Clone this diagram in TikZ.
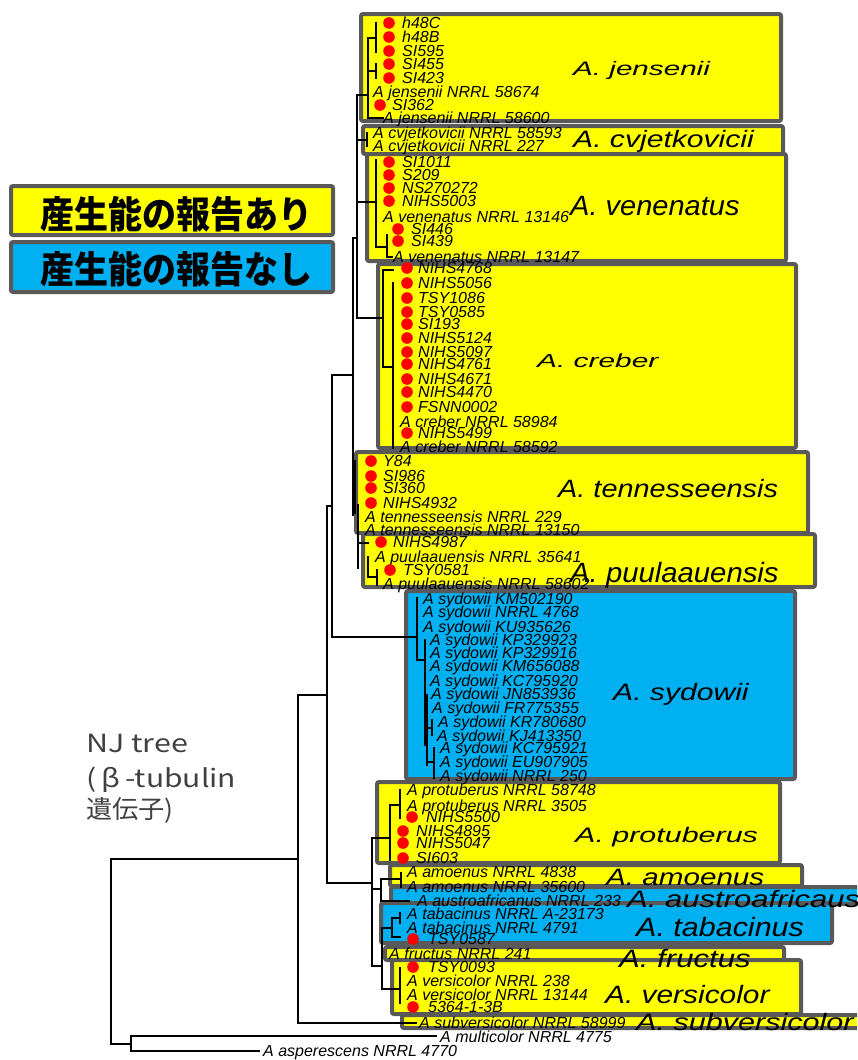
\documentclass[tikz,border=0pt]{standalone}
\usepackage{fontspec}
\usepackage{graphicx}
\setmainfont{Liberation Sans}
\newfontfamily\jpfont{Noto Sans CJK JP}
\definecolor{boxyellow}{HTML}{FFFF00}
\definecolor{boxblue}{HTML}{00B0F0}
\definecolor{boxgray}{HTML}{595959}
\definecolor{dotred}{HTML}{FF0000}
\definecolor{njgray}{HTML}{404040}
\newcounter{lfc}
\newcommand{\lf}[3]{\stepcounter{lfc}\node[leaf] (leaf\arabic{lfc}) at (#1,#2+5.7) {#3};}
\newcommand{\rd}[2]{\fill[dotred] (#1,#2) circle (5.8);}
\newcommand{\spl}[6]{\node[splab] (#1) at (#2,#3) {\fontsize{#4}{#4}\selectfont\scalebox{#5}[1]{#6}};}
\newcommand{\bx}[5]{\draw[#1] (#2+2,#3+2) rectangle (#4-2,#5-2);}
\tikzset{
 leaf/.style={anchor=base west, inner sep=0pt, font=\fontsize{16}{16}\selectfont\itshape},
 splab/.style={anchor=base west, inner sep=0pt, font=\itshape},
 yb/.style={draw=boxgray, line width=4pt, fill=boxyellow, rounded corners=2pt},
 bb/.style={draw=boxgray, line width=4pt, fill=boxblue, rounded corners=2pt},
 br/.style={line width=1.5pt, line cap=rect},
 jp/.style={inner sep=0pt, font=\jpfont\bfseries\fontsize{34}{34}\selectfont},
 njt/.style={anchor=base west, inner sep=0pt, text=njgray, font=\jpfont\fontsize{25}{25}\selectfont},
}
\begin{document}
\begin{tikzpicture}[x=1pt,y=-1pt]
\useasboundingbox (0,0) rectangle (857,1060);
\clip (0,0) rectangle (857,1060);
% ---------- boxes ----------
\bx{yb}{359}{12}{783}{123}
\bx{yb}{361}{124}{785}{156}
\bx{yb}{365}{152}{788}{263}
\bx{yb}{376}{262}{798}{450}
\bx{yb}{354}{450}{810}{535}
\bx{yb}{361}{532}{817}{589}
\bx{bb}{404}{589}{797}{781}
\bx{yb}{375}{780}{782}{865}
\bx{yb}{388}{863}{804}{888}
\bx{bb}{389}{885}{872}{906}
\bx{bb}{379}{901}{834}{945}
\bx{yb}{383}{945}{786}{962}
\bx{yb}{390}{958}{803}{1016}
\bx{yb}{400}{1013}{872}{1030}
% legend
\bx{yb}{9}{184}{335}{237}
\bx{bb}{9}{240}{335}{294}
\node[jp] (leg1) at (176,214) {\scalebox{1}[1.1]{産生能の報告あり}};
\node[jp] (leg2) at (176,269) {\scalebox{1}[1.1]{産生能の報告なし}};
% NJ tree caption
\node[njt] (nj1) at (86,752) {\scalebox{1.22}[1]{NJ tree}};
\node[njt] (nj2) at (86,787) {\scalebox{1.2}[1]{(\,β\,-tubulin}};
\node[njt] (nj3) at (86,818) {\scalebox{1.05}[1]{遺伝子)}};
% ---------- tree ----------
\draw[br] (298,859) -- (111,859) -- (111,1044) -- (131,1044);
\draw[br] (436,1036) -- (131,1036) -- (131,1051) -- (259,1051);
\draw[br] (327,695) -- (298,695) -- (298,1023) -- (416,1023);
\draw[br] (332,506) -- (327,506) -- (327,883) -- (372,883);
\draw[br] (353,375) -- (332,375) -- (332,637) -- (417,637);
\draw[br] (357,238) -- (353,238) -- (353,515);
\draw[br] (368,95) -- (357,95) -- (357,318) -- (383,318);
\draw[br] (357,140) -- (367,140);
\draw[br] (367,133) -- (367,146);
\draw[br] (357,202) -- (376,202);
% jensenii
\draw[br] (376,23) -- (376,52);
\draw[br] (368,38) -- (376,38);
\draw[br] (376,64) -- (376,78);
\draw[br] (368,71) -- (376,71);
\draw[br] (368,38) -- (368,118) -- (383,118);
% venenatus
\draw[br] (376,160) -- (376,247) -- (387,247);
\draw[br] (387,235) -- (387,257) -- (392,257);
% creber
\draw[br] (393,270) -- (383,270) -- (383,367) -- (393,367);
\draw[br] (393,283) -- (393,448);
% tennesseensis / puulaauensis
\draw[br] (355,461) -- (355,513);
\draw[br] (358,505) -- (358,568);
\draw[br] (358,543) -- (368,543);
\draw[br] (368,557) -- (368,577) -- (377,577);
\draw[br] (377,570) -- (377,585);
% sydowii
\draw[br] (417,598) -- (417,660) -- (425,660);
\draw[br] (425,640) -- (425,745);
\draw[br] (427,695) -- (427,765);
\draw[br] (427,728) -- (432,728);
\draw[br] (432,720) -- (432,735);
\draw[br] (427,762) -- (434,762);
\draw[br] (434,748) -- (434,778);
% protuberus
\draw[br] (372,838) -- (390,838);
\draw[br] (390,805) -- (390,860);
\draw[br] (390,805) -- (400,805);
\draw[br] (400,790) -- (400,818);
\draw[br] (372,838) -- (372,966) -- (382,966);
% amoenus / austroafricanus
\draw[br] (372,889) -- (381,889);
\draw[br] (381,879) -- (381,901) -- (409,901);
\draw[br] (381,879) -- (401,879);
\draw[br] (401,873) -- (401,887);
% tabacinus / versicolor
\draw[br] (382,928) -- (382,989) -- (400,989);
\draw[br] (400,968) -- (400,1003);
\draw[br] (382,928) -- (392,928);
\draw[br] (392,918) -- (392,937) -- (400,937);
\draw[br] (392,918) -- (400,918);
\draw[br] (400,913) -- (400,923);
% ---------- leaves ----------
\rd{389}{23}\lf{402}{23}{h48C}
\rd{389}{37}\lf{402}{37}{h48B}
\rd{389}{51}\lf{402}{51}{SI595}
\rd{389}{64}\lf{402}{64}{SI455}
\rd{389}{78}\lf{402}{78}{SI423}
\lf{373}{92}{A jensenii NRRL 58674}
\rd{380}{105}\lf{392}{105}{SI362}
\lf{383}{118}{A jensenii NRRL 58600}
\lf{373}{133}{A cvjetkovicii NRRL 58593}
\lf{373}{146}{A cvjetkovicii NRRL 227}
\rd{389}{162}\lf{402}{162}{SI1011}
\rd{389}{175}\lf{402}{175}{S209}
\rd{389}{188}\lf{402}{188}{NS270272}
\rd{389}{201}\lf{402}{201}{NIHS5003}
\lf{383}{217}{A venenatus NRRL 13146}
\rd{398}{229}\lf{411}{229}{SI446}
\rd{398}{241}\lf{411}{241}{SI439}
\lf{393}{257}{A venenatus NRRL 13147}
\rd{407}{268}\lf{418}{268}{NIHS4768}
\rd{407}{283}\lf{418}{283}{NIHS5056}
\rd{407}{298}\lf{418}{298}{TSY1086}
\rd{407}{312}\lf{418}{312}{TSY0585}
\rd{407}{324}\lf{418}{324}{SI193}
\rd{407}{338}\lf{418}{338}{NIHS5124}
\rd{407}{352}\lf{418}{352}{NIHS5097}
\rd{407}{364}\lf{418}{364}{NIHS4761}
\rd{407}{379}\lf{418}{379}{NIHS4671}
\rd{407}{392}\lf{418}{392}{NIHS4470}
\rd{407}{407}\lf{418}{407}{FSNN0002}
\lf{400}{422}{A creber NRRL 58984}
\rd{407}{433}\lf{418}{433}{NIHS5499}
\lf{400}{447}{A creber NRRL 58592}
\rd{371}{461}\lf{383}{461}{Y84}
\rd{371}{476}\lf{383}{476}{SI986}
\rd{371}{488}\lf{383}{488}{SI360}
\rd{371}{503}\lf{383}{503}{NIHS4932}
\lf{365}{517}{A tennesseensis NRRL 229}
\lf{365}{530}{A tennesseensis NRRL 13150}
\rd{381}{542}\lf{393}{542}{NIHS4987}
\lf{375}{557}{A puulaauensis NRRL 35641}
\rd{390}{570}\lf{403}{570}{TSY0581}
\lf{383}{584}{A puulaauensis NRRL 58602}
\lf{423}{599}{A sydowii KM502190}
\lf{423}{612}{A sydowii NRRL 4768}
\lf{423}{627}{A sydowii KU935626}
\lf{430}{640}{A sydowii KP329923}
\lf{430}{653}{A sydowii KP329916}
\lf{430}{666}{A sydowii KM656088}
\lf{430}{681}{A sydowii KC795920}
\lf{431}{694}{A sydowii JN853936}
\lf{432}{708}{A sydowii FR775355}
\lf{438}{722}{A sydowii KR780680}
\lf{437}{736}{A sydowii KJ413350}
\lf{440}{748}{A sydowii KC795921}
\lf{440}{762}{A sydowii EU907905}
\lf{440}{776}{A sydowii NRRL 250}
\lf{407}{790}{A protuberus NRRL 58748}
\lf{407}{806}{A protuberus NRRL 3505}
\rd{412}{817}\lf{426}{817}{NIHS5500}
\rd{403}{831}\lf{416}{831}{NIHS4895}
\rd{403}{843}\lf{416}{843}{NIHS5047}
\rd{403}{858}\lf{416}{858}{SI603}
\lf{407}{872}{A amoenus NRRL 4838}
\lf{407}{887}{A amoenus NRRL 35600}
\lf{417}{901}{A austroafricanus NRRL 233}
\lf{407}{914}{A tabacinus NRRL A-23173}
\lf{407}{928}{A tabacinus NRRL 4791}
\rd{413}{939}\lf{428}{939}{TSY0587}
\lf{389}{954}{A fructus NRRL 241}
\rd{413}{967}\lf{428}{967}{TSY0093}
\lf{407}{981}{A versicolor NRRL 238}
\lf{407}{995}{A versicolor NRRL 13144}
\rd{413}{1007}\lf{428}{1007}{5364-1-3B}
\lf{419}{1023}{A subversicolor NRRL 58999}
\lf{440}{1037}{A multicolor NRRL 4775}
\lf{263}{1051}{A asperescens NRRL 4770}
% ---------- species labels ----------
\spl{sjen}{573}{75}{19.5}{1.52}{A. jensenii}
\spl{scvj}{573}{147}{23.7}{1.27}{A. cvjetkovicii}
\spl{sven}{570}{215}{27.9}{1.04}{A. venenatus}
\spl{scre}{537}{367}{18.9}{1.58}{A. creber}
\spl{sten}{558}{497}{25.1}{1.15}{A. tennesseensis}
\spl{spuu}{570}{582}{27.9}{1.05}{A. puulaauensis}
\spl{ssyd}{613}{700}{23.7}{1.27}{A. sydowii}
\spl{spro}{575}{842}{21}{1.45}{A. protuberus}
\spl{samo}{606}{885}{23.7}{1.25}{A. amoenus}
\spl{saus}{627}{907}{23.7}{1.31}{A. austroafricaus}
\spl{stab}{636}{936}{26.5}{1.15}{A. tabacinus}
\spl{sfru}{619}{967}{25.1}{1.24}{A. fructus}
\spl{sver}{605}{1003}{25.1}{1.19}{A. versicolor}
\spl{ssub}{636}{1030}{23.7}{1.29}{A. subversicolor}
\end{tikzpicture}
\end{document}
